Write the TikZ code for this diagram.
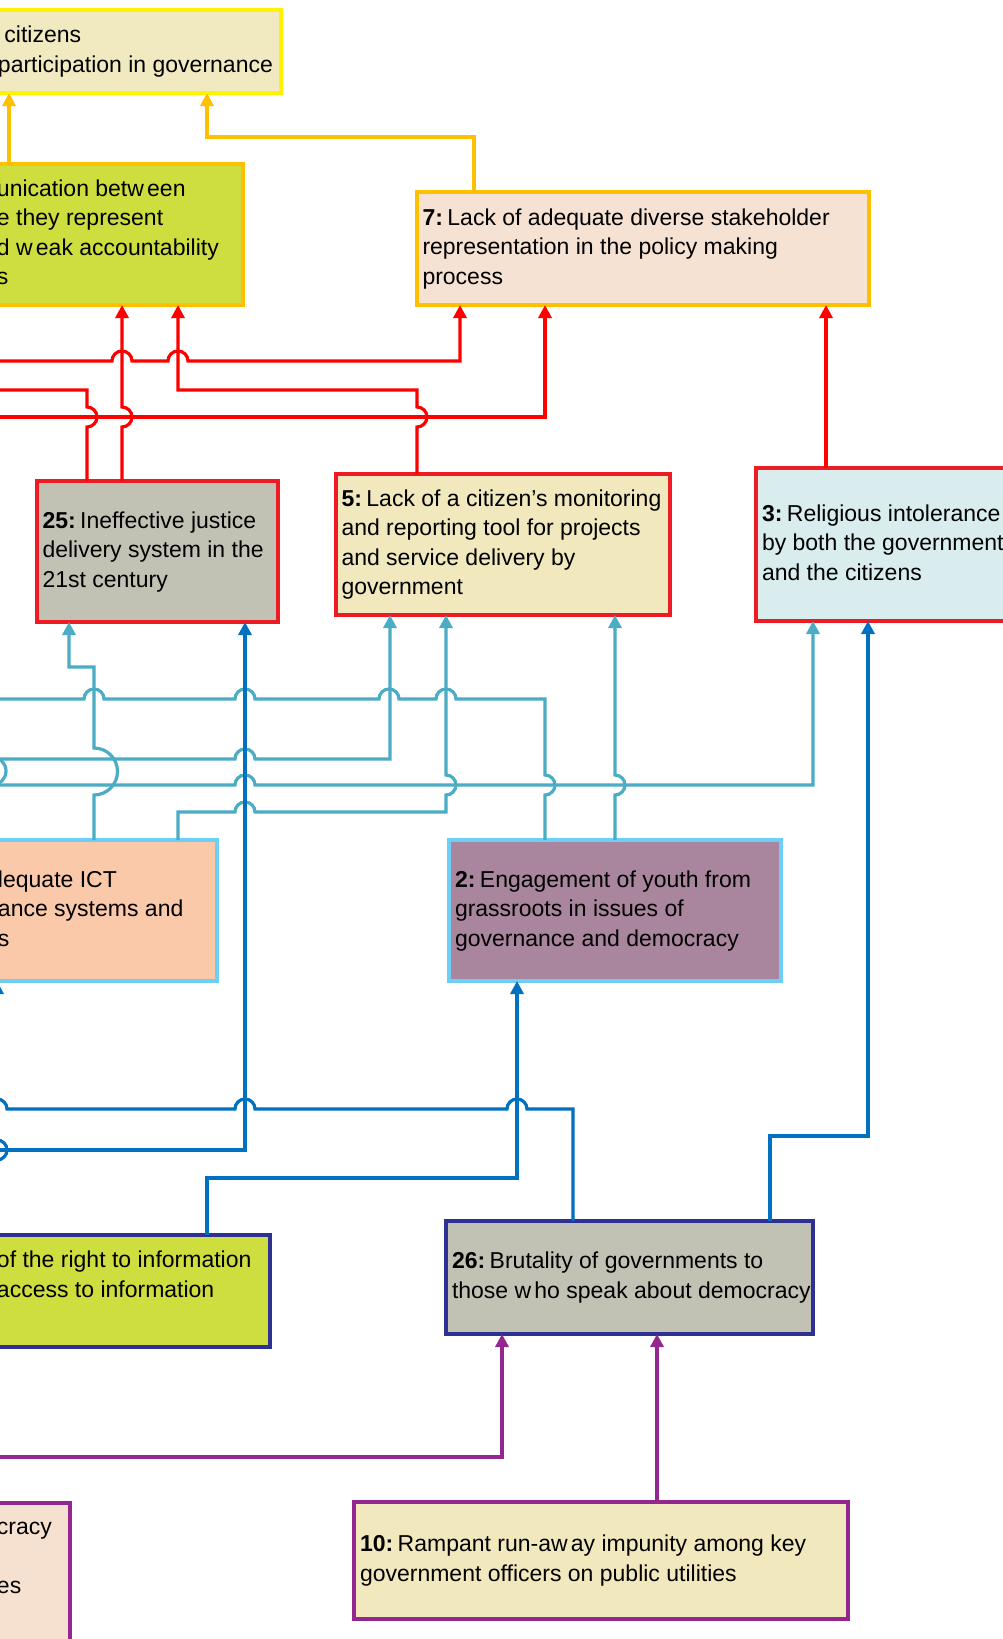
\documentclass[tikz,border=0pt]{standalone}
\usepackage{fontspec}
\setmainfont{Liberation Sans}
\usetikzlibrary{arrows.meta}
\definecolor{ytopb}{HTML}{FFF200}
\definecolor{ytopf}{HTML}{F1E9BF}
\definecolor{orng}{HTML}{FFC000}
\definecolor{grnf}{HTML}{CFDE3F}
\definecolor{pchf}{HTML}{F6E2D2}
\definecolor{redl}{HTML}{FF0000}
\definecolor{redb}{HTML}{ED1C24}
\definecolor{grayf}{HTML}{C2C2B4}
\definecolor{beigef}{HTML}{F1E8BE}
\definecolor{cyanf}{HTML}{D9EDEF}
\definecolor{lbl}{HTML}{4BACC6}
\definecolor{lbb}{HTML}{6DCFF6}
\definecolor{mauvef}{HTML}{A9869D}
\definecolor{ictf}{HTML}{F9C9A9}
\definecolor{dbl}{HTML}{0070C0}
\definecolor{navyb}{HTML}{2E3192}
\definecolor{purp}{HTML}{93278F}
\definecolor{blf}{HTML}{F6E1D1}
\newcommand\ls{\rule[-5.5pt]{0pt}{23pt}}
\newcommand\wg{\hspace{3.2pt}}
\newcommand\num[1]{\textbf{#1}\hspace{4.5pt}}
\begin{document}
\begin{tikzpicture}[x=1pt,y=-1pt,
  box/.style={rectangle, inner sep=0pt, outer sep=0pt, line width=3.6pt},
  txt/.style={anchor=west, inner sep=0pt, outer sep=0pt, align=left, font=\fontsize{23}{29.5}\selectfont, text=black},
  con/.style={line width=3.2pt, line join=miter},
  arr/.style={con, -{Triangle[length=13pt,width=13pt]}},
]
\useasboundingbox (0,0) rectangle (1003,1639);
\fill[white] (0,0) rectangle (1003,1639);
\clip (0,0) rectangle (1003,1639);

% ---------- boxes ----------
\node[box, draw=ytopb, fill=ytopf, minimum width=291pt, minimum height=83pt] (tb) at (135.5,51.5) {};
\node[box, draw=orng, fill=grnf, minimum width=253pt, minimum height=141pt] (gb) at (116.5,234.5) {};
\node[box, draw=orng, fill=pchf, minimum width=452pt, minimum height=113pt] (b7) at (643,248.5) {};
\node[box, draw=redb, fill=grayf, minimum width=241pt, minimum height=141pt] (b25) at (157.5,551.5) {};
\node[box, draw=redb, fill=beigef, minimum width=334pt, minimum height=141pt] (b5) at (503,544.5) {};
\node[box, draw=redb, fill=cyanf, minimum width=259pt, minimum height=153pt] (b3) at (885.5,544.5) {};
\node[box, draw=lbb, fill=ictf, minimum width=227pt, minimum height=141pt] (ict) at (103.5,910.5) {};
\node[box, draw=lbb, fill=mauvef, minimum width=332pt, minimum height=141pt] (b2) at (615,910.5) {};
\node[box, draw=navyb, fill=grnf, minimum width=280pt, minimum height=112pt] (rti) at (130,1291) {};
\node[box, draw=navyb, fill=grayf, minimum width=367pt, minimum height=113pt] (b26) at (629.5,1277.5) {};
\node[box, draw=purp, fill=blf, minimum width=80pt, minimum height=157pt] (bl) at (30,1581.5) {};
\node[box, draw=purp, fill=beigef, minimum width=494pt, minimum height=117pt] (b10) at (601,1560.5) {};

% ---------- texts ----------
\node[txt] (tbt) at ([xshift=8pt]tb.west) {\ls\hspace*{6.5pt}citizens\\\ls participation in governance};
\node[txt] (gbt) at ([xshift=7pt]gb.west) {\ls unication betw\wg een\\\ls e they represent\\\ls d w\wg eak accountability\\\ls s};
\node[txt] (b7t) at ([xshift=5.5pt]b7.west) {\ls\num{7:}Lack of adequate diverse stakeholder\\\ls representation in the policy making\\\ls process};
\node[txt] (b25t) at ([xshift=5.5pt]b25.west) {\ls\num{25:}Ineffective justice\\\ls delivery system in the\\\ls 21st century};
\node[txt] (b5t) at ([xshift=5.5pt]b5.west) {\ls\num{5:}Lack of a citizen's monitoring\\\ls and reporting tool for projects\\\ls and service delivery by\\\ls government};
\node[txt] (b3t) at ([xshift=6pt]b3.west) {\ls\num{3:}Religious intolerance\\\ls by both the government\\\ls and the citizens};
\node[txt] (ictt) at ([xshift=8pt]ict.west) {\ls lequate ICT\\\ls ance systems and\\\ls s};
\node[txt] (b2t) at ([xshift=6pt]b2.west) {\ls\num{2:}Engagement of youth from\\\ls grassroots in issues of\\\ls governance and democracy};
\node[txt] (rtit) at ([xshift=7pt]rti.west) {\ls of the right to information\\\ls access to information\\\ls};
\node[txt] (b26t) at ([xshift=6pt]b26.west) {\ls\num{26:}Brutality of governments to\\\ls those w\wg ho speak about democracy};
\node[txt] (blt) at (-3,1558) {\ls cracy\\\ls\\\ls es};
\node[txt] (b10t) at ([xshift=6pt]b10.west) {\ls\num{10:}Rampant run-aw\wg ay impunity among key\\\ls government officers on public utilities};

% ---------- free ends (off the page) ----------
\coordinate (r3e) at (-15,390);
\coordinate (r5s) at (-15,361);
\coordinate (r6s) at (-15,417);
\coordinate (l1e) at (-15,699);
\coordinate (l2s) at (-15,759);
\coordinate (l3s) at (-15,785);
\coordinate (l7s) at (-8,830);
\coordinate (l7e) at (-8,720);
\coordinate (d1s) at (-15,1150);
\coordinate (d2e) at (-15,1109);
\coordinate (d5s) at (-3,1220);
\coordinate (p1s) at (-15,1457);

% ---------- orange ----------
\draw[arr, orng] ([xshift=19pt]gb.north west) -- ([xshift=19pt]tb.south west);
\draw[arr, orng] ([xshift=57pt]b7.north west) |- (207,137) -- ([xshift=217pt]tb.south west);

% ---------- red ----------
\draw[arr, redl] ([xshift=70pt]b3.north west) -- ([xshift=409pt]b7.south west);
\draw[arr, redl] ([xshift=81pt]b5.north west) -- (417,427) arc[start angle=-90,end angle=90,radius=10pt] -- (417,390) -- (178,390) -- ([xshift=188pt]gb.south west);
\draw[con, redl] ([xshift=50pt]b25.north west) -- (87,427) arc[start angle=-90,end angle=90,radius=10pt] -- (87,390) -- (r3e);
\draw[arr, redl] ([xshift=85pt]b25.north west) -- (122,427) arc[start angle=-90,end angle=90,radius=10pt] -- ([xshift=132pt]gb.south west);
\draw[arr, redl] (r5s) -- (112,361) arc[start angle=180,end angle=0,radius=10pt] -- (168,361) arc[start angle=180,end angle=0,radius=10pt] -- (460,361) -- ([xshift=43pt]b7.south west);
\draw[arr, redl] (r6s) -- (545,417) -- ([xshift=128pt]b7.south west);

% ---------- light blue ----------
\draw[con, lbl] ([xshift=96pt]b2.north west) -- (545,795) arc[start angle=-90,end angle=90,radius=10pt] -- (545,699) -- (456,699) arc[start angle=0,end angle=180,radius=10pt] -- (399,699) arc[start angle=0,end angle=180,radius=10pt] -- (255,699) arc[start angle=0,end angle=180,radius=10pt] -- (104,699) arc[start angle=0,end angle=180,radius=10pt] -- (l1e);
\draw[arr, lbl] ([xshift=104pt]ict.north west) -- (94,795) arc[start angle=-90,end angle=90,radius=23.5pt] -- (94,667) -- (69,667) -- ([xshift=32pt]b25.south west);
\draw[arr, lbl] (l2s) -- (235,759) arc[start angle=180,end angle=0,radius=10pt] -- (390,759) -- ([xshift=54pt]b5.south west);
\draw[arr, lbl] (l3s) -- (235,785) arc[start angle=180,end angle=0,radius=10pt] -- (813,785) -- ([xshift=57pt]b3.south west);
\draw[arr, lbl] ([xshift=188pt]ict.north west) -- (178,812) -- (235,812) arc[start angle=180,end angle=0,radius=10pt] -- (446,812) -- (446,795) arc[start angle=-90,end angle=90,radius=10pt] -- ([xshift=110pt]b5.south west);
\draw[arr, lbl] ([xshift=166pt]b2.north west) -- (615,795) arc[start angle=-90,end angle=90,radius=10pt] -- ([xshift=279pt]b5.south west);
\draw[con, lbl] (l7s) -- (-8,785) arc[start angle=-90,end angle=90,radius=14pt] -- (l7e);

% ---------- dark blue ----------
\draw[arr, dbl] (d1s) -- (245,1150) -- ([xshift=208pt]b25.south west);
\draw[con, dbl] ([xshift=127pt]b26.north west) -- (573,1109) -- (527,1109) arc[start angle=0,end angle=180,radius=10pt] -- (255,1109) arc[start angle=0,end angle=180,radius=10pt] -- (7,1109) arc[start angle=0,end angle=180,radius=10pt] -- (d2e);
\draw[arr, dbl] ([xshift=217pt]rti.north west) |- (517,1178) -- ([xshift=68pt]b2.south west);
\draw[arr, dbl] ([xshift=324pt]b26.north west) |- (868,1136) -- ([xshift=112pt]b3.south west);
\draw[arr, dbl] (d5s) -- (-3,1160) arc[start angle=-90,end angle=90,radius=10pt] -- ([xshift=7pt]ict.south west);

% ---------- purple ----------
\draw[arr, purp] (p1s) -| ([xshift=56pt]b26.south west);
\draw[arr, purp] ([xshift=303pt]b10.north west) -- ([xshift=211pt]b26.south west);
\end{tikzpicture}
\end{document}
